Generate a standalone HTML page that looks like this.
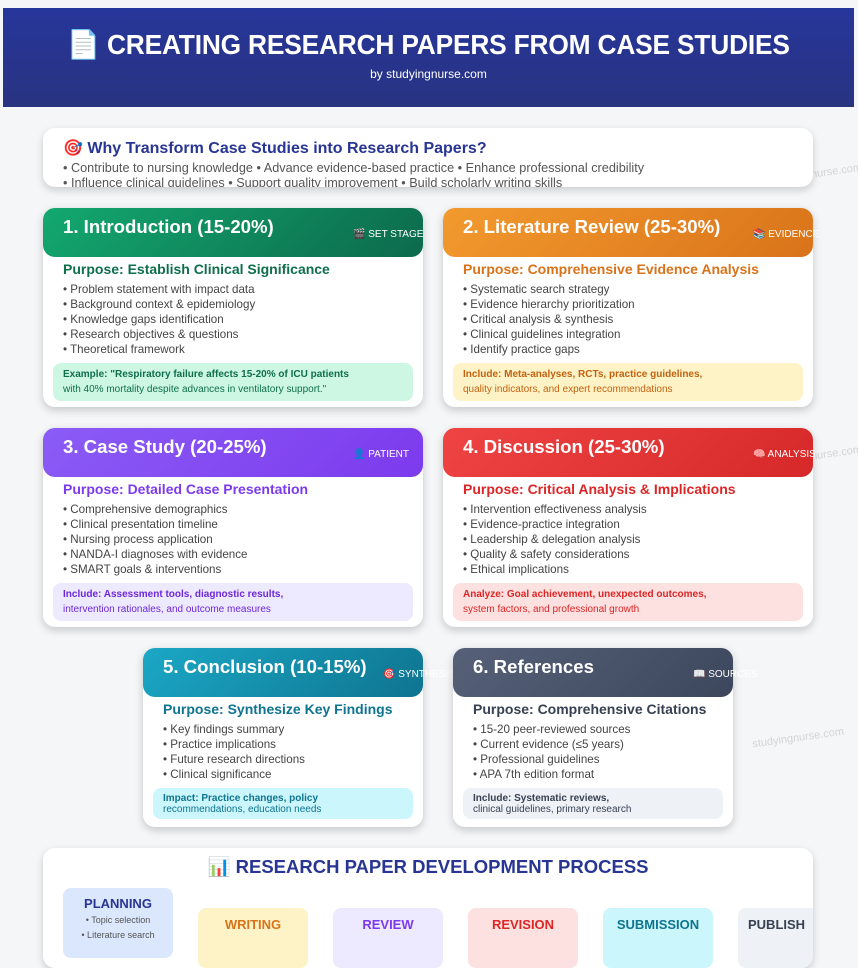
<!DOCTYPE html>
<html><head><meta charset="utf-8"><style>
*{box-sizing:border-box;margin:0;padding:0}
body{width:858px;height:936px;overflow:hidden;background:#f5f6f8;font-family:"Liberation Sans","Noto Sans CJK SC",sans-serif;position:relative}
.hdr{position:absolute;left:3px;top:8px;width:851px;height:99px;background:linear-gradient(180deg,#27369a,#283381);color:#fff;text-align:center}
.hdr h1{position:absolute;top:20px;left:0;right:0;font-size:28px;font-weight:bold;letter-spacing:-0.2px;transform:scaleX(0.94)}
.hdr p{position:absolute;top:59px;left:0;right:0;font-size:12px}
.box{position:absolute;background:#fff;border-radius:12px;box-shadow:0 3px 8px rgba(0,0,0,.18);overflow:hidden}
.why h2{position:absolute;left:20px;top:10px;font-size:16px;color:#283593;font-weight:bold}
.why p{position:absolute;left:20px;font-size:12.7px;color:#555}
.card{position:absolute;background:#fff;border-radius:12px;box-shadow:0 3px 9px rgba(0,0,0,.2)}
.ch{position:absolute;left:0;top:0;right:0;height:49px;border-radius:12px;color:#fff}
.ch b{position:absolute;left:20px;top:8px;font-size:18.6px}
.ch i{position:absolute;top:21px;font-style:normal;font-size:10px;white-space:nowrap}
.pp{position:absolute;left:20px;top:53px;font-size:14px;font-weight:bold}
.ul{position:absolute;left:20px;top:74px;font-size:11.6px;color:#444;line-height:15px}
.nt{position:absolute;left:10px;right:10px;border-radius:8px;font-size:10px;padding:4px 10px;line-height:15px}
.wm{position:absolute;font-size:11px;color:#d4d4d4;transform:rotate(-8deg);white-space:nowrap}
.st{position:absolute;border-radius:8px;text-align:center;font-weight:bold;font-size:13px;height:60px}
</style></head><body>
<div class="hdr"><h1>📄 CREATING RESEARCH PAPERS FROM CASE STUDIES</h1><p>by studyingnurse.com</p></div>

<div class="wm" style="left:770px;top:168px">studyingnurse.com</div>
<div class="box why" style="left:43px;top:128px;width:770px;height:59px">
<h2>🎯 Why Transform Case Studies into Research Papers?</h2>
<p style="top:33px">• Contribute to nursing knowledge • Advance evidence-based practice • Enhance professional credibility</p>
<p style="top:48px">• Influence clinical guidelines • Support quality improvement • Build scholarly writing skills</p>
</div>

<div class="card" style="left:43px;top:208px;width:380px;height:199px">
<div class="ch" style="background:linear-gradient(135deg,#13a86f,#0c6a4c)"><b>1. Introduction (15-20%)</b><i style="left:310px">🎬 SET STAGE</i></div>
<div class="pp" style="color:#0f6e4c">Purpose: Establish Clinical Significance</div>
<div class="ul">• Problem statement with impact data<br>• Background context &amp; epidemiology<br>• Knowledge gaps identification<br>• Research objectives &amp; questions<br>• Theoretical framework</div>
<div class="nt" style="top:155px;background:#cdf7e2;color:#0f6e4c"><b>Example: "Respiratory failure affects 15-20% of ICU patients</b><br>with 40% mortality despite advances in ventilatory support."</div>
</div>

<div class="card" style="left:443px;top:208px;width:370px;height:199px">
<div class="ch" style="background:linear-gradient(135deg,#f29a2e,#d9731a)"><b>2. Literature Review (25-30%)</b><i style="left:310px">📚 EVIDENCE</i></div>
<div class="pp" style="color:#d9731a">Purpose: Comprehensive Evidence Analysis</div>
<div class="ul">• Systematic search strategy<br>• Evidence hierarchy prioritization<br>• Critical analysis &amp; synthesis<br>• Clinical guidelines integration<br>• Identify practice gaps</div>
<div class="nt" style="top:155px;background:#fef3c7;color:#c2620f"><b>Include: Meta-analyses, RCTs, practice guidelines,</b><br>quality indicators, and expert recommendations</div>
</div>

<div class="wm" style="left:770px;top:450px">studyingnurse.com</div>
<div class="card" style="left:43px;top:428px;width:380px;height:199px">
<div class="ch" style="background:linear-gradient(135deg,#8b5cf6,#7c3aed)"><b>3. Case Study (20-25%)</b><i style="left:310px">👤 PATIENT</i></div>
<div class="pp" style="color:#7c3aed">Purpose: Detailed Case Presentation</div>
<div class="ul">• Comprehensive demographics<br>• Clinical presentation timeline<br>• Nursing process application<br>• NANDA-I diagnoses with evidence<br>• SMART goals &amp; interventions</div>
<div class="nt" style="top:155px;background:#ede9fe;color:#6d28d9"><b>Include: Assessment tools, diagnostic results,</b><br>intervention rationales, and outcome measures</div>
</div>

<div class="card" style="left:443px;top:428px;width:370px;height:199px">
<div class="ch" style="background:linear-gradient(135deg,#ef4444,#d62828)"><b>4. Discussion (25-30%)</b><i style="left:310px">🧠 ANALYSIS</i></div>
<div class="pp" style="color:#dc2626">Purpose: Critical Analysis &amp; Implications</div>
<div class="ul">• Intervention effectiveness analysis<br>• Evidence-practice integration<br>• Leadership &amp; delegation analysis<br>• Quality &amp; safety considerations<br>• Ethical implications</div>
<div class="nt" style="top:155px;background:#fde0e0;color:#dc2626"><b>Analyze: Goal achievement, unexpected outcomes,</b><br>system factors, and professional growth</div>
</div>

<div class="card" style="left:143px;top:648px;width:280px;height:179px">
<div class="ch" style="background:linear-gradient(135deg,#1ba8c6,#0e7490)"><b>5. Conclusion (10-15%)</b><i style="left:240px">🎯 SYNTHESIS</i></div>
<div class="pp" style="color:#0e7490">Purpose: Synthesize Key Findings</div>
<div class="ul">• Key findings summary<br>• Practice implications<br>• Future research directions<br>• Clinical significance</div>
<div class="nt" style="top:140px;background:#cbf6fc;color:#0e7490;line-height:11px;padding:5px 10px 4px"><b>Impact: Practice changes, policy</b><br>recommendations, education needs</div>
</div>

<div class="card" style="left:453px;top:648px;width:280px;height:179px">
<div class="ch" style="background:linear-gradient(135deg,#566179,#3c475c)"><b>6. References</b><i style="left:240px">📖 SOURCES</i></div>
<div class="pp" style="color:#374151">Purpose: Comprehensive Citations</div>
<div class="ul">• 15-20 peer-reviewed sources<br>• Current evidence (≤5 years)<br>• Professional guidelines<br>• APA 7th edition format</div>
<div class="nt" style="top:140px;background:#eef1f6;color:#374151;line-height:11px;padding:5px 10px 4px"><b>Include: Systematic reviews,</b><br>clinical guidelines, primary research</div>
</div>
<div class="wm" style="left:752px;top:732px">studyingnurse.com</div>

<div class="box" style="left:43px;top:848px;width:770px;height:120px">
<div style="position:absolute;left:0;right:0;top:8px;text-align:center;font-size:18.5px;font-weight:bold;color:#283593">📊 RESEARCH PAPER DEVELOPMENT PROCESS</div>
<div class="st" style="left:20px;top:40px;width:110px;height:70px;background:#dbe7fd;color:#283593;padding-top:8px">PLANNING<div style="font-size:9px;font-weight:normal;color:#555;line-height:15px;margin-top:2px">• Topic selection<br>• Literature search</div></div>
<div class="st" style="left:155px;top:60px;width:110px;background:#fef3c7;color:#d9731a;padding-top:9px">WRITING</div>
<div class="st" style="left:290px;top:60px;width:110px;background:#ede9fe;color:#7c3aed;padding-top:9px">REVIEW</div>
<div class="st" style="left:425px;top:60px;width:110px;background:#fde0e0;color:#dc2626;padding-top:9px">REVISION</div>
<div class="st" style="left:560px;top:60px;width:110px;background:#cbf6fc;color:#0e7490;padding-top:9px">SUBMISSION</div>
<div class="st" style="left:695px;top:60px;width:110px;background:#eef1f6;color:#374151;padding-top:9px;text-align:left;padding-left:10px">PUBLISH</div>
</div>
</body></html>
